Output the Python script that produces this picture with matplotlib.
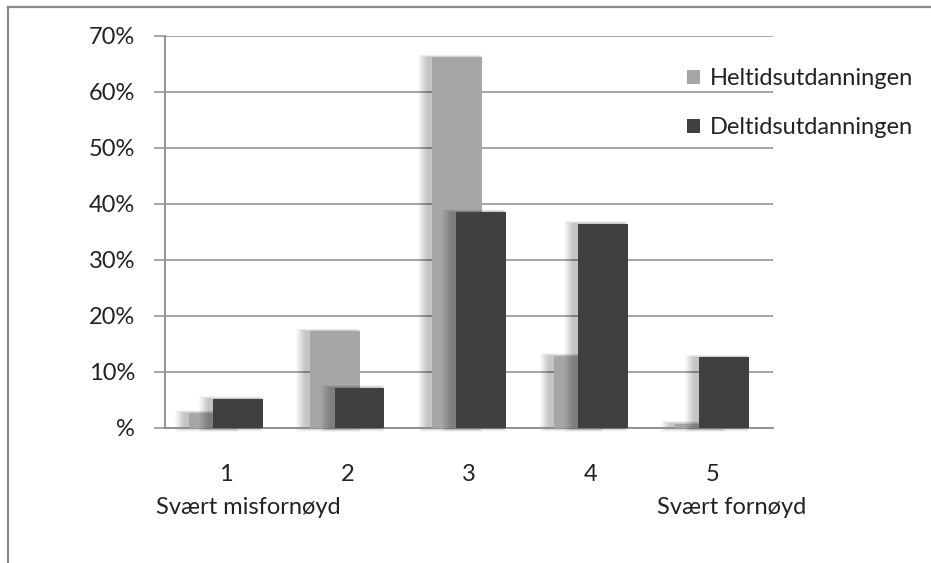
import matplotlib
matplotlib.use("Agg")
import matplotlib.pyplot as plt
from matplotlib.lines import Line2D
from matplotlib.patches import Patch, Rectangle
import numpy as np

# satisfaction scale 1-5, share of respondents per programme
categories = ["1", "2", "3", "4", "5"]
heltid = [2.7, 17.3, 66.2, 12.9, 0.8]
deltid = [5.2, 7.2, 38.6, 36.5, 12.6]
series_names = ["Heltidsutdanningen", "Deltidsutdanningen"]
yticks = [0, 10, 20, 30, 40, 50, 60, 70]
ytick_labels = ["%", "10%", "20%", "30%", "40%", "50%", "60%", "70%"]

C_HEL = "#A6A6A6"
C_DEL = "#404040"
C_GRID = "#8C8C8C"
C_TXT = "#222222"
FONT = "Lato"
FS = 17

W, H = 931, 563
fig = plt.figure(figsize=(W / 100, H / 100), dpi=100)
fig.patch.set_facecolor("white")

# axes box in pixel terms
x0, x1, ytop, ybot = 165, 773, 36, 428
ax = fig.add_axes([x0 / W, (H - ybot) / H, (x1 - x0) / W, (ybot - ytop) / H])
ax.set_xlim(0.5, 5.5)
ax.set_ylim(0, 70)

px_x = 5 / (x1 - x0)
px_y = 70 / (ybot - ytop)

x = np.arange(1, len(categories) + 1)
bw = 0.41
off = 0.1


def soft_shadow(xc, h, z):
    # stacked translucent rectangles give a blurred drop shadow
    for r in range(1, 11):
        left = xc - bw / 2 - 4 * px_x - r * px_x
        width = bw + 2 * r * px_x * 0.7
        bottom = -r * px_y * 0.35
        height = h + 2 * r * px_y * 0.3
        ax.add_patch(Rectangle((left, bottom), width, height, facecolor="black",
                               edgecolor="none", alpha=0.022, zorder=z, clip_on=False))


for xi, v in zip(x - off, heltid):
    soft_shadow(xi, v, 2)
ax.bar(x - off, heltid, bw, color=C_HEL, zorder=3)
for xi, v in zip(x + off, deltid):
    soft_shadow(xi, v, 4)
ax.bar(x + off, deltid, bw, color=C_DEL, zorder=5)

ax.set_yticks(yticks)
ax.set_yticklabels(ytick_labels, fontsize=FS, family=FONT, color=C_TXT)
ax.yaxis.grid(True, color=C_GRID, lw=1.1)
ax.set_axisbelow(True)
ax.tick_params(axis="y", length=8, width=1.1, color=C_GRID, pad=13.5)
ax.set_xticks(x)
ax.set_xticklabels(categories, fontsize=FS, family=FONT, color=C_TXT)
ax.tick_params(axis="x", length=0, pad=26)

for s in ["top", "right"]:
    ax.spines[s].set_visible(False)
ax.spines["left"].set_color(C_GRID)
ax.spines["left"].set_linewidth(1.3)
ax.spines["bottom"].set_color(C_GRID)
ax.spines["bottom"].set_linewidth(1.3)

fig.text(248 / W, 1 - 507 / H, "Svært misfornøyd", fontsize=FS, family=FONT,
         color=C_TXT, ha="center", va="center")
fig.text(732 / W, 1 - 507 / H, "Svært fornøyd", fontsize=FS, family=FONT,
         color=C_TXT, ha="center", va="center")

handles = [Patch(facecolor=C_HEL), Patch(facecolor=C_DEL)]
leg = fig.legend(handles, series_names, loc="upper left",
                 bbox_to_anchor=(687 / W, 1 - 68 / H), frameon=False,
                 prop={"family": FONT, "size": FS}, handlelength=0.55,
                 handleheight=0.55, handletextpad=0.4, labelspacing=1.2,
                 borderaxespad=0, borderpad=0)
for t in leg.get_texts():
    t.set_color(C_TXT)

# outer frame lines on the left and top
fig.add_artist(Line2D([7.5 / W, 7.5 / W], [0, 1 - 7 / H], color="#8A8A8A", lw=1.6))
fig.add_artist(Line2D([7.5 / W, 1], [1 - 7 / H, 1 - 7 / H], color="#8A8A8A", lw=1.6))

fig.savefig("out.png", dpi=100)
